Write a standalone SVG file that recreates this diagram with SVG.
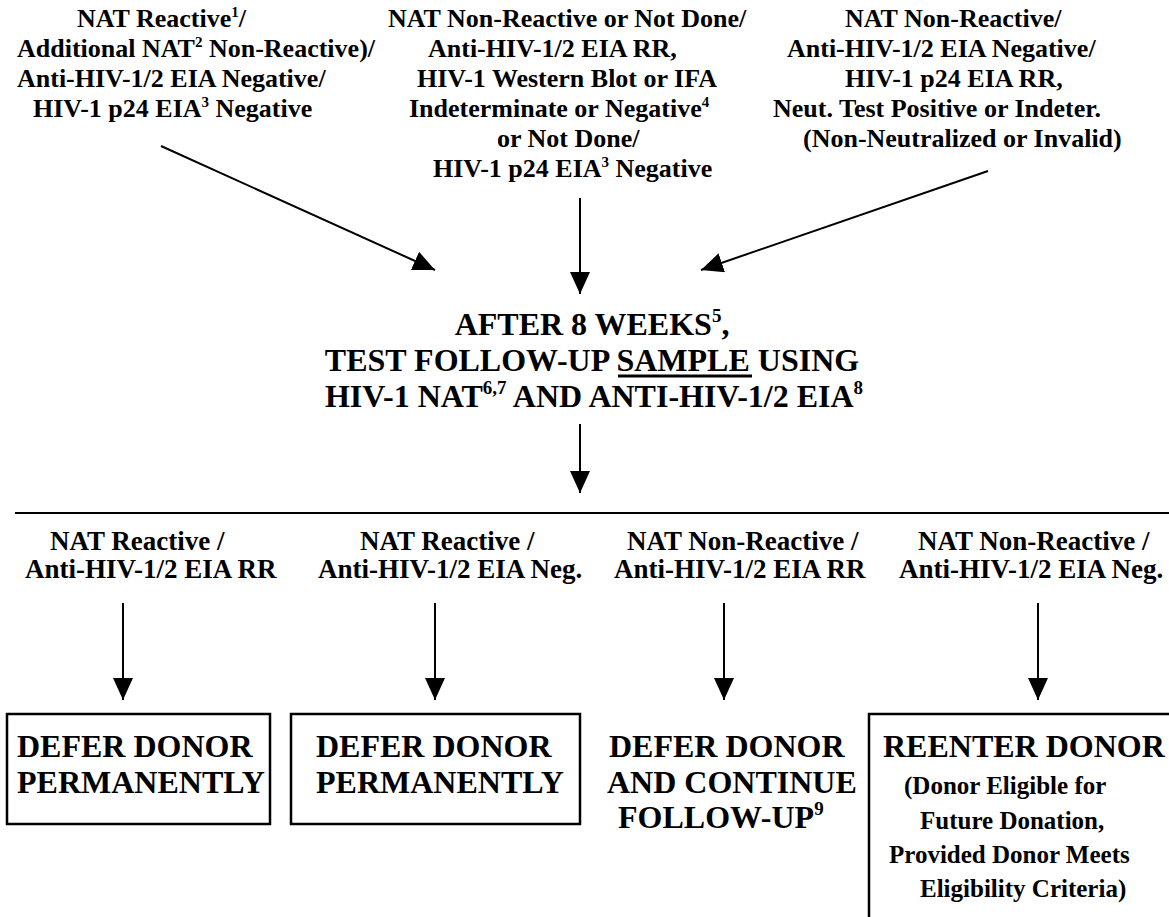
<svg xmlns="http://www.w3.org/2000/svg" width="1169" height="917" viewBox="0 0 1169 917">
<defs>
<marker id="ah" markerWidth="22" markerHeight="20" refX="22" refY="10" orient="auto" markerUnits="userSpaceOnUse"><path d="M0,0 L22,10 L0,20 Z" fill="#000"/></marker>
</defs>
<style>
text{font-family:"Liberation Serif","Times New Roman",serif;font-weight:bold;fill:#000}
.t{font-size:26px}
.l{font-size:27px}
.c{font-size:32px}
.b{font-size:32px}
.s{font-size:25px}
.sup{font-size:15px}
.csup{font-size:19px}
.ln{stroke:#000;stroke-width:2;fill:none}
.box{stroke:#000;stroke-width:2.5;fill:none}
</style>
<rect width="1169" height="917" fill="#fff"/>

<g id="src1">
<text class="t" x="77" y="27">NAT Reactive<tspan class="sup" dy="-10">1</tspan><tspan dy="10">/</tspan></text>
<text class="t" x="17" y="57">Additional NAT<tspan class="sup" dy="-10">2</tspan><tspan dy="10"> Non-Reactive)/</tspan></text>
<text class="t" x="17" y="87">Anti-HIV-1/2 EIA Negative/</text>
<text class="t" x="33" y="117">HIV-1 p24 EIA<tspan class="sup" dy="-10">3</tspan><tspan dy="10"> Negative</tspan></text>
</g>

<g id="src2">
<text class="t" x="388" y="27">NAT Non-Reactive or Not Done/</text>
<text class="t" x="428" y="57">Anti-HIV-1/2 EIA RR,</text>
<text class="t" x="417" y="87">HIV-1 Western Blot or IFA</text>
<text class="t" x="409" y="117">Indeterminate or Negative<tspan class="sup" dy="-10">4</tspan></text>
<text class="t" x="497" y="147">or Not Done/</text>
<text class="t" x="433" y="177">HIV-1 p24 EIA<tspan class="sup" dy="-10">3</tspan><tspan dy="10"> Negative</tspan></text>
</g>

<g id="src3">
<text class="t" x="845" y="27">NAT Non-Reactive/</text>
<text class="t" x="787" y="57">Anti-HIV-1/2 EIA Negative/</text>
<text class="t" x="845" y="87">HIV-1 p24 EIA RR,</text>
<text class="t" x="773" y="117">Neut. Test Positive or Indeter.</text>
<text class="t" x="803" y="147">(Non-Neutralized or Invalid)</text>
</g>

<g id="step">
<text class="c" x="592" y="335" text-anchor="middle">AFTER 8 WEEKS<tspan class="csup" dy="-13">5</tspan><tspan dy="13">,</tspan></text>
<text class="c" x="592" y="371" text-anchor="middle">TEST FOLLOW-UP SAMPLE USING</text>
<line x1="618" y1="376" x2="752" y2="376" stroke="#000" stroke-width="3"/>
<text class="c" x="594" y="407" text-anchor="middle">HIV-1 NAT<tspan class="csup" dy="-13">6,7</tspan><tspan dy="13"> AND ANTI-HIV-1/2 EIA</tspan><tspan class="csup" dy="-13">8</tspan></text>
</g>

<g id="cond1">
<text class="l" x="50" y="550">NAT Reactive /</text>
<text class="l" x="25" y="578">Anti-HIV-1/2 EIA RR</text>
</g>
<g id="cond2">
<text class="l" x="360" y="550">NAT Reactive /</text>
<text class="l" x="318" y="578">Anti-HIV-1/2 EIA Neg.</text>
</g>
<g id="cond3">
<text class="l" x="627" y="550">NAT Non-Reactive /</text>
<text class="l" x="614" y="578">Anti-HIV-1/2 EIA RR</text>
</g>
<g id="cond4">
<text class="l" x="918" y="550">NAT Non-Reactive /</text>
<text class="l" x="899" y="578">Anti-HIV-1/2 EIA Neg.</text>
</g>

<g id="out1">
<rect class="box" x="7" y="714" width="263" height="110"/>
<text class="b" x="17" y="757">DEFER DONOR</text>
<text class="b" x="17" y="793">PERMANENTLY</text>
</g>
<g id="out2">
<rect class="box" x="291" y="714" width="289" height="110"/>
<text class="b" x="316" y="757">DEFER DONOR</text>
<text class="b" x="316" y="793">PERMANENTLY</text>
</g>
<g id="out3">
<text class="b" x="609" y="757">DEFER DONOR</text>
<text class="b" x="607" y="793">AND CONTINUE</text>
<text class="b" x="618" y="828">FOLLOW-UP<tspan class="csup" dy="-13">9</tspan></text>
</g>
<g id="out4">
<rect class="box" x="869" y="714" width="400" height="300"/>
<text class="b" x="883" y="757">REENTER DONOR</text>
<text class="s" x="904" y="794">(Donor Eligible for</text>
<text class="s" x="920" y="829">Future Donation,</text>
<text class="s" x="889" y="863">Provided Donor Meets</text>
<text class="s" x="920" y="897">Eligibility Criteria)</text>
</g>

<g id="connectors">
<line class="ln" x1="161" y1="146" x2="435" y2="270" marker-end="url(#ah)"/>
<line class="ln" x1="580" y1="198" x2="580" y2="294" marker-end="url(#ah)"/>
<line class="ln" x1="988" y1="171" x2="701" y2="270" marker-end="url(#ah)"/>
<line class="ln" x1="580" y1="424" x2="580" y2="493" marker-end="url(#ah)"/>
<line class="ln" x1="15" y1="513" x2="1169" y2="513"/>
<line class="ln" x1="123" y1="603" x2="123" y2="700" marker-end="url(#ah)"/>
<line class="ln" x1="435" y1="603" x2="435" y2="700" marker-end="url(#ah)"/>
<line class="ln" x1="724" y1="603" x2="724" y2="700" marker-end="url(#ah)"/>
<line class="ln" x1="1038" y1="603" x2="1038" y2="700" marker-end="url(#ah)"/>
</g>
</svg>
